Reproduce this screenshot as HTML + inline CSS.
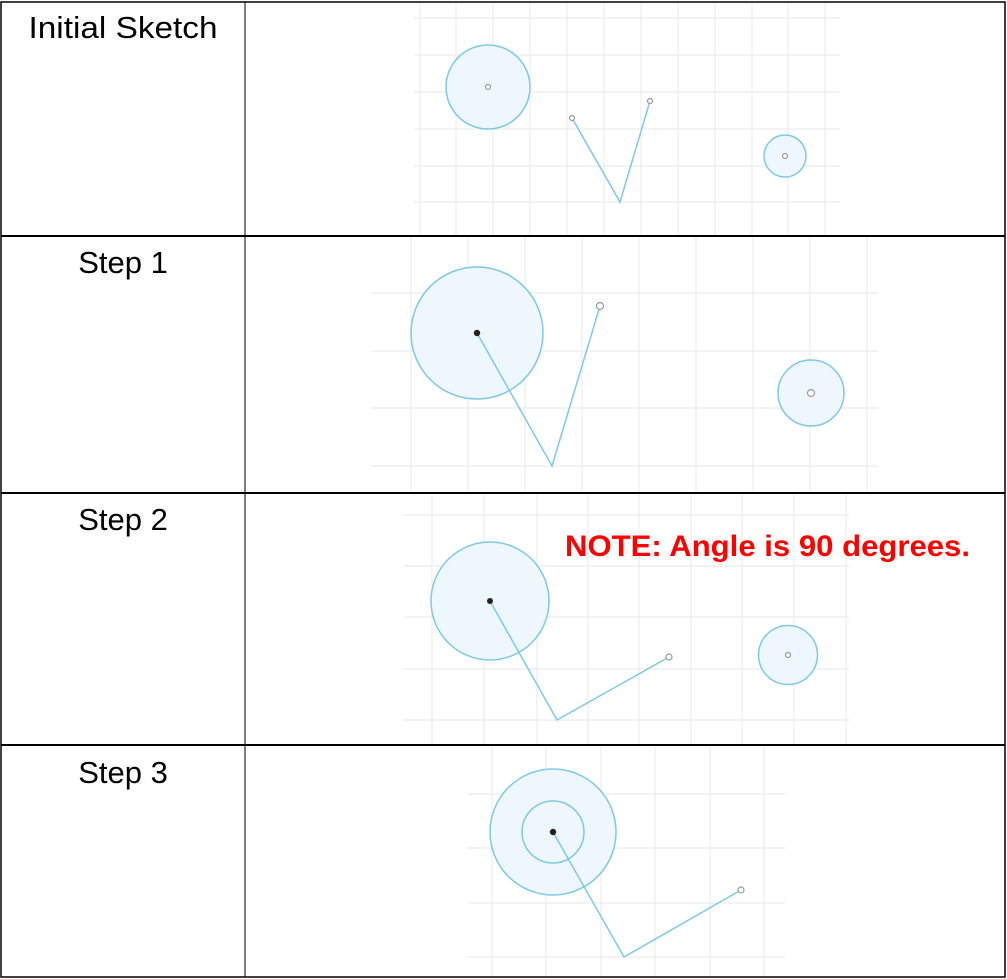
<!DOCTYPE html>
<html><head><style>
body{margin:0;background:#fff;}
svg{display:block}
text{font-family:"Liberation Sans",Calibri,sans-serif}
</style></head><body>
<svg width="1007" height="979" viewBox="0 0 1007 979" xmlns="http://www.w3.org/2000/svg">
<rect width="1007" height="979" fill="#fff"/>
<g stroke="#ececec" stroke-width="1.2" fill="none">
<path d="M420 2V236M456 2V236M493 2V236M530 2V236M567 2V236M604 2V236M641 2V236M678 2V236M715 2V236M752 2V236M788 2V236M825 2V236"/>
<path d="M414 18H840M414 55H840M414 92H840M414 129H840M414 166H840M414 202H840"/>
<path d="M411 236V493M468 236V493M525 236V493M582 236V493M639 236V493M696 236V493M753 236V493M810 236V493M867 236V493"/>
<path d="M371 293H878M371 351H878M371 408H878M371 466H878"/>
<path d="M432 493V745M484 493V745M537 493V745M588 493V745M639 493V745M691 493V745M742 493V745M794 493V745M846 493V745"/>
<path d="M404 515H849M404 566H849M404 617H849M404 669H849M404 720H849"/>
<path d="M492 745V977M546 745V977M601 745V977M655 745V977M710 745V977M764 745V977"/>
<path d="M468 794H785M468 848H785M468 903H785M468 957H785"/>
</g>
<g stroke="#7ec8e8" stroke-width="1.5" fill="#eef7fd">
<circle cx="488" cy="87" r="42"/>
<circle cx="785" cy="156" r="21"/>
<circle cx="477" cy="333" r="66"/>
<circle cx="811" cy="393" r="33"/>
<circle cx="490" cy="601" r="59"/>
<circle cx="788" cy="655" r="29.5"/>
<circle cx="553" cy="832" r="63"/>
<circle cx="553" cy="832" r="31" fill="none"/>
</g>
<g stroke="#7ec8e8" stroke-width="1.5" fill="none">
<polyline points="572,118 620,202 650,101"/>
<polyline points="477,333 552,466 600,306"/>
<polyline points="490,601 557,720 669,657"/>
<polyline points="553,832 624,957 741,890"/>
</g>
<g stroke="#999" stroke-width="1.2" fill="#fff">
<circle cx="488" cy="87" r="2.5"/><circle cx="785" cy="156" r="2.5"/>
<circle cx="572" cy="118" r="2.5"/><circle cx="650" cy="101" r="2.5"/>
<circle cx="600" cy="306" r="3.5"/><circle cx="811" cy="393" r="3.5"/>
<circle cx="669" cy="657" r="3"/><circle cx="788" cy="655" r="2.5"/>
<circle cx="741" cy="890" r="3"/>
</g>
<g fill="#222">
<circle cx="477" cy="333" r="3.2"/><circle cx="490" cy="601" r="3"/><circle cx="553" cy="832" r="3.2"/>
</g>
<g stroke="#000" stroke-width="2" fill="none">
<rect x="1" y="2" width="1004" height="975" stroke-width="1.5"/>
<path d="M1 236H1005M1 493H1005M1 745H1005"/>
<path d="M245 2V977" stroke-width="1"/>
</g>
<g font-size="31" fill="#000" text-anchor="middle">
<text x="123" y="38" textLength="189" lengthAdjust="spacingAndGlyphs">Initial Sketch</text>
<text x="123" y="273">Step 1</text>
<text x="123" y="530">Step 2</text>
<text x="123" y="783">Step 3</text>
</g>
<text x="565" y="556" font-size="30" font-weight="bold" fill="#ff0000" textLength="405" lengthAdjust="spacingAndGlyphs">NOTE: Angle is 90 degrees.</text>
</svg>
</body></html>
